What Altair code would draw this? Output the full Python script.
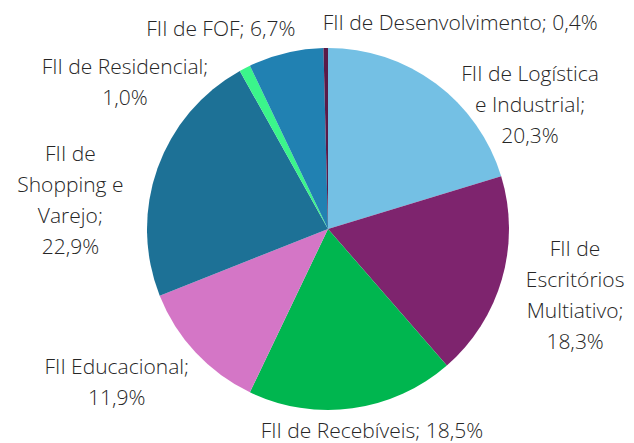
import math
import altair as alt
import pandas as pd

categories = [
    "FII de Logística e Industrial",
    "FII de Escritórios Multiativo",
    "FII de Recebíveis",
    "FII Educacional",
    "FII de Shopping e Varejo",
    "FII de Residencial",
    "FII de FOF",
    "FII de Desenvolvimento",
]
values = [20.3, 18.3, 18.5, 11.9, 22.9, 1.0, 6.7, 0.4]
labels = [
    "FII de Logística\ne Industrial;\n20,3%",
    "FII de\nEscritórios\nMultiativo;\n18,3%",
    "FII de Recebíveis; 18,5%",
    "FII Educacional;\n11,9%",
    "FII de\nShopping e\nVarejo;\n22,9%",
    "FII de Residencial;\n1,0%",
    "FII de FOF; 6,7%",
    "FII de Desenvolvimento; 0,4%",
]
colors = ["#74C0E4", "#7E246E", "#00B64F", "#D476C6", "#1D7196", "#3BF58B", "#2181B2", "#5A1A48"]

# label layout (polar: degrees clockwise from top, pixel distance from centre to first line)
label_angle = [52.7, 94.9, 167.8, 236.6, 286.0, 308.4, 331.7, 32.8]
label_dist = [254, 248, 208, 253, 268, 259, 226, 244]

df = pd.DataFrame({
    "cat": categories,
    "val": values,
    "idx": list(range(len(values))),
    "label": labels,
    "lang": [math.radians(a) for a in label_angle],
    "ldist": label_dist,
})

cx, cy = 320, 221

pie = alt.Chart(df).mark_arc(outerRadius=181, x=cx, y=cy).encode(
    theta=alt.Theta("val:Q", stack=True),
    order=alt.Order("idx:Q", sort="ascending"),
    color=alt.Color("cat:N", scale=alt.Scale(domain=categories, range=colors), legend=None),
)

text = alt.Chart(df).mark_text(
    x=cx, y=cy, align="center", baseline="middle", lineBreak="\n",
    font="Open Sans", fontWeight=300, fontSize=21, lineHeight=31, color="#262626",
).encode(
    theta=alt.Theta("lang:Q", scale=None),
    radius=alt.Radius("ldist:Q", scale=None),
    text="label:N",
)

chart = alt.layer(pie, text).properties(
    width=618, height=435, autosize="none", padding=0,
).configure_view(stroke=None)

chart.save("out.html", embed_options={"renderer": "svg", "actions": False})
